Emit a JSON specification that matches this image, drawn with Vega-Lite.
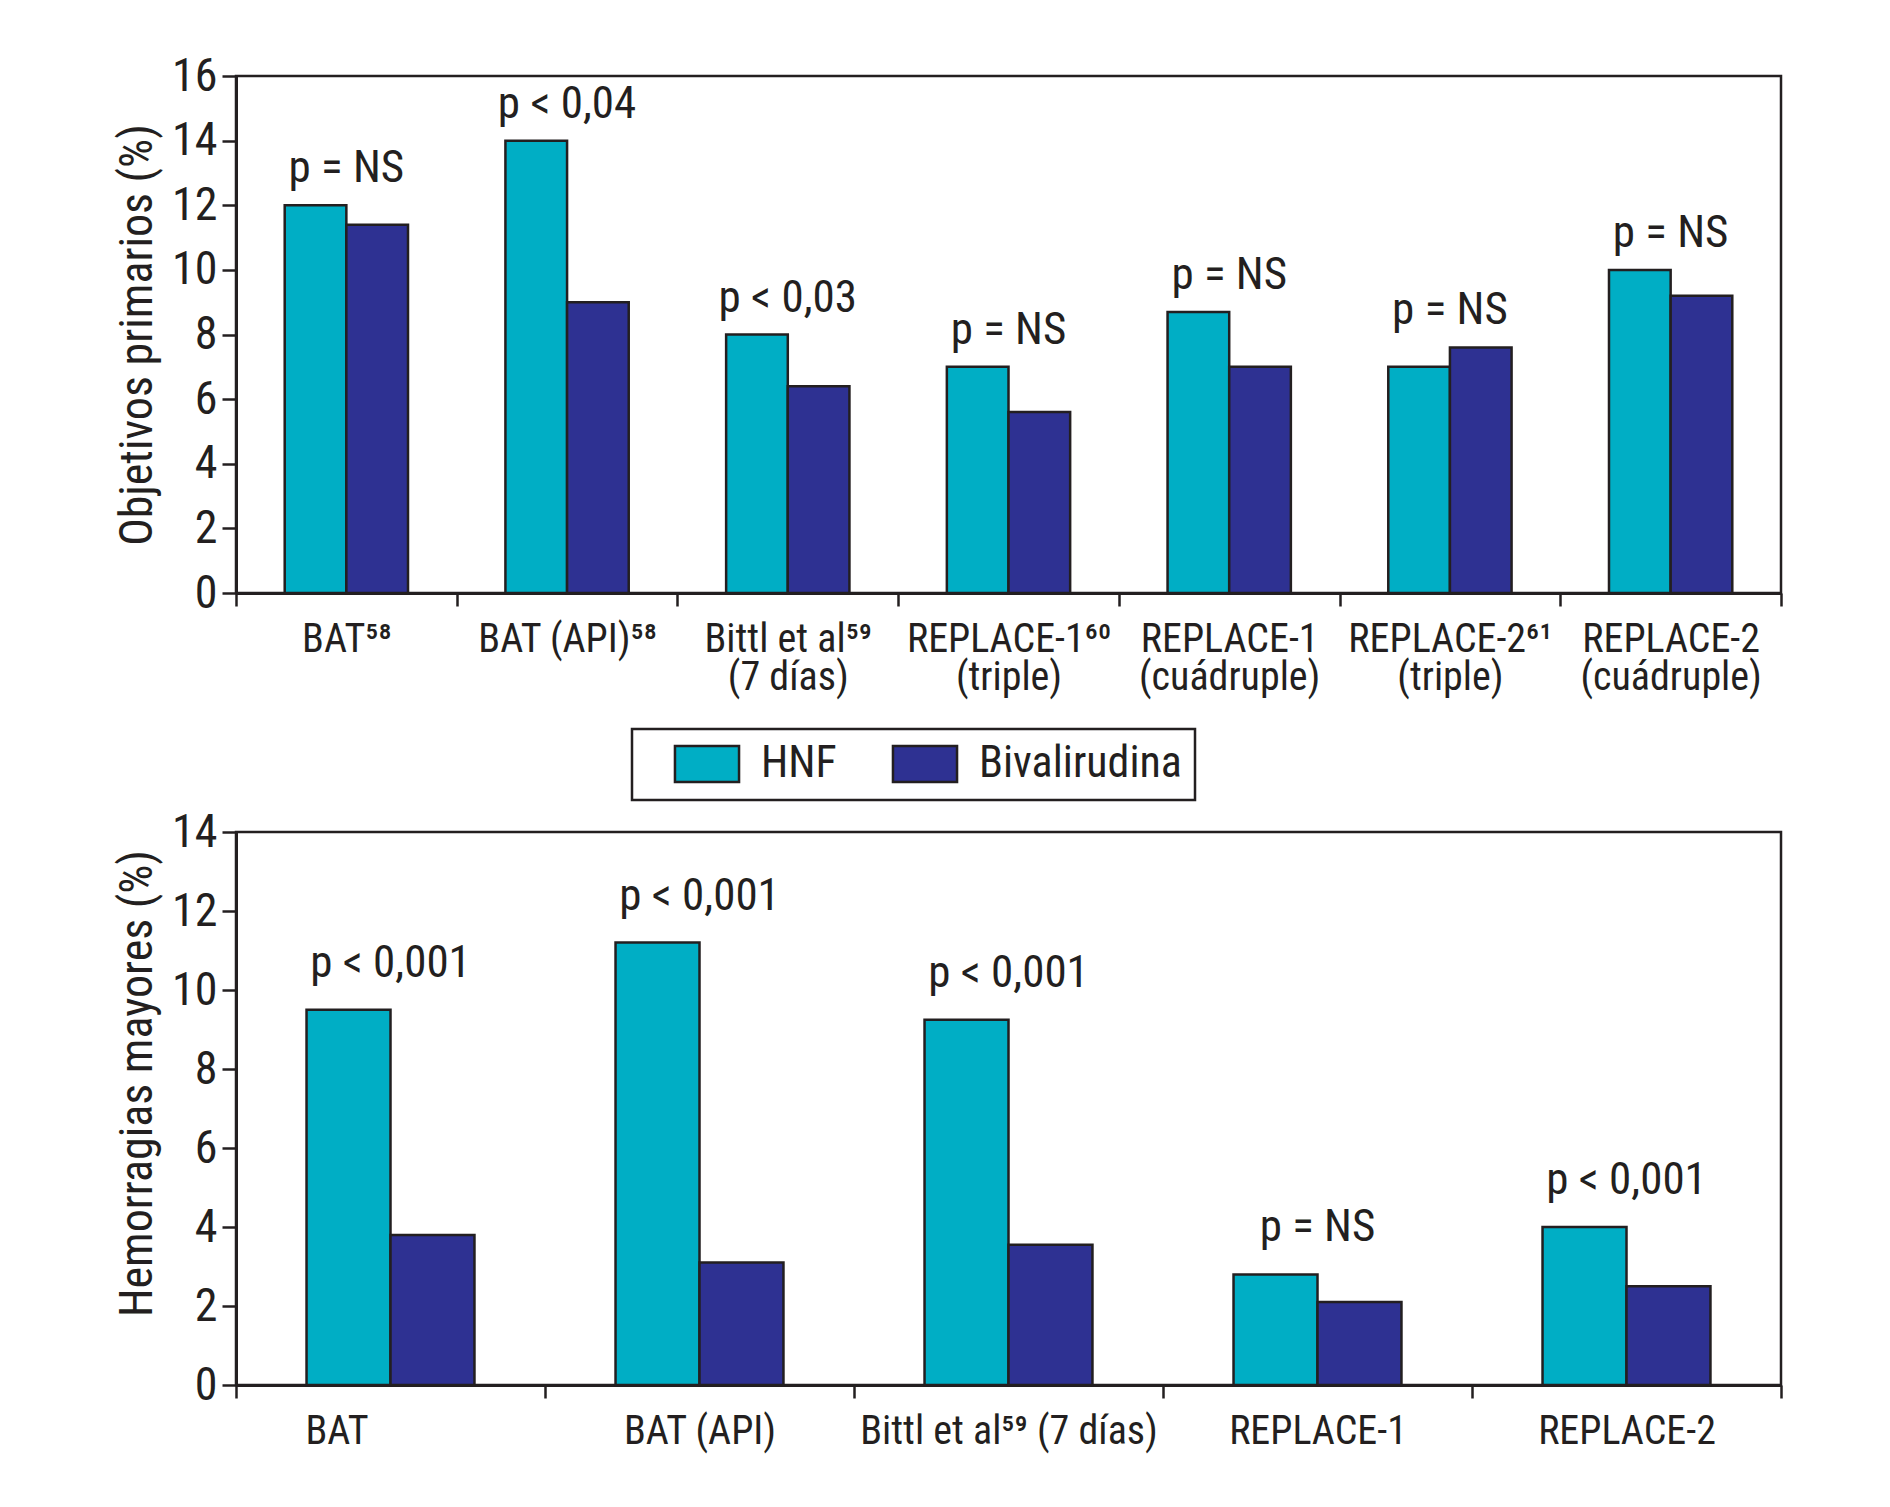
{
  "$schema": "https://vega.github.io/schema/vega-lite/v6.json",
  "background": "white",
  "padding": {"left": 113, "top": 51, "right": 100, "bottom": 40},
  "config": {
    "font": "Roboto Condensed, Liberation Sans Narrow, DejaVu Sans Condensed, sans-serif",
    "view": {"stroke": "#231f20", "strokeWidth": 2.5},
    "axis": {
      "domainColor": "#231f20",
      "domainWidth": 3,
      "tickColor": "#231f20",
      "tickWidth": 2.5,
      "labelColor": "#231f20",
      "titleColor": "#231f20",
      "titleFontWeight": "normal",
      "grid": false,
      "labelOverlap": false,
      "labelLimit": 0
    },
    "axisY": {"tickSize": 14, "labelFontSize": 46, "labelPadding": 5, "titleFontSize": 46, "titlePadding": 10, "labelFlush": false},
    "axisX": {"tickSize": 13, "labelFontSize": 40, "labelAngle": 0, "labelPadding": 13, "tickBand": "extent", "labelBaseline": "top"},
    "legend": {"strokeWidth": 2.5}
  },
  "datasets": {
    "primarios": [
      {"estudio": "BAT⁵⁸", "grupo": "HNF", "valor": 12.0, "p": "p = NS"},
      {"estudio": "BAT⁵⁸", "grupo": "Bivalirudina", "valor": 11.4},
      {"estudio": "BAT (API)⁵⁸", "grupo": "HNF", "valor": 14.0, "p": "p < 0,04"},
      {"estudio": "BAT (API)⁵⁸", "grupo": "Bivalirudina", "valor": 9.0},
      {"estudio": "Bittl et al⁵⁹|(7 días)", "grupo": "HNF", "valor": 8.0, "p": "p < 0,03"},
      {"estudio": "Bittl et al⁵⁹|(7 días)", "grupo": "Bivalirudina", "valor": 6.4},
      {"estudio": "REPLACE-1⁶⁰|(triple)", "grupo": "HNF", "valor": 7.0, "p": "p = NS"},
      {"estudio": "REPLACE-1⁶⁰|(triple)", "grupo": "Bivalirudina", "valor": 5.6},
      {"estudio": "REPLACE-1|(cuádruple)", "grupo": "HNF", "valor": 8.7, "p": "p = NS"},
      {"estudio": "REPLACE-1|(cuádruple)", "grupo": "Bivalirudina", "valor": 7.0},
      {"estudio": "REPLACE-2⁶¹|(triple)", "grupo": "HNF", "valor": 7.0, "p": "p = NS"},
      {"estudio": "REPLACE-2⁶¹|(triple)", "grupo": "Bivalirudina", "valor": 7.6},
      {"estudio": "REPLACE-2|(cuádruple)", "grupo": "HNF", "valor": 10.0, "p": "p = NS"},
      {"estudio": "REPLACE-2|(cuádruple)", "grupo": "Bivalirudina", "valor": 9.2}
    ],
    "hemorragias": [
      {"estudio": "BAT", "grupo": "HNF", "valor": 9.5, "p": "p < 0,001"},
      {"estudio": "BAT", "grupo": "Bivalirudina", "valor": 3.8},
      {"estudio": "BAT (API)", "grupo": "HNF", "valor": 11.2, "p": "p < 0,001"},
      {"estudio": "BAT (API)", "grupo": "Bivalirudina", "valor": 3.1},
      {"estudio": "Bittl et al⁵⁹ (7 días)", "grupo": "HNF", "valor": 9.25, "p": "p < 0,001"},
      {"estudio": "Bittl et al⁵⁹ (7 días)", "grupo": "Bivalirudina", "valor": 3.55},
      {"estudio": "REPLACE-1", "grupo": "HNF", "valor": 2.8, "p": "p = NS"},
      {"estudio": "REPLACE-1", "grupo": "Bivalirudina", "valor": 2.1},
      {"estudio": "REPLACE-2", "grupo": "HNF", "valor": 4.0, "p": "p < 0,001"},
      {"estudio": "REPLACE-2", "grupo": "Bivalirudina", "valor": 2.5}
    ]
  },
  "bounds": "flush",
  "spacing": 239,
  "resolve": {"scale": {"x": "independent", "xOffset": "independent", "y": "independent", "color": "shared"}},
  "vconcat": [
    {
      "width": 1545,
      "height": 517,
      "data": {"name": "primarios"},
      "encoding": {
        "x": {
          "field": "estudio",
          "type": "nominal",
          "sort": null,
          "title": null,
          "scale": {"paddingInner": 0, "paddingOuter": 0},
          "axis": {"labelExpr": "split(datum.label, '|')", "labelLineHeight": 38}
        }
      },
      "layer": [
        {
          "mark": {"type": "bar", "stroke": "#231f20", "strokeWidth": 2.5},
          "encoding": {
            "xOffset": {"field": "grupo", "sort": null, "scale": {"paddingInner": 0, "paddingOuter": 0.79}},
            "y": {
              "field": "valor",
              "type": "quantitative",
              "title": "Objetivos primarios (%)",
              "scale": {"domain": [0, 16], "nice": false},
              "axis": {"values": [0, 2, 4, 6, 8, 10, 12, 14, 16]}
            },
            "color": {
              "field": "grupo",
              "type": "nominal",
              "sort": null,
              "scale": {"domain": ["HNF", "Bivalirudina"], "range": ["#00aec5", "#2e3192"]},
              "legend": {
                "orient": "none",
                "legendX": 396,
                "legendY": 653,
                "direction": "horizontal",
                "title": null,
                "symbolType": "M-1.78,-1H1.78V1H-1.78Z",
                "symbolSize": 1296,
                "symbolOffset": 40,
                "symbolStrokeColor": "#231f20",
                "symbolStrokeWidth": 2.5,
                "symbolOpacity": 1,
                "labelFontSize": 44,
                "labelLimit": 0,
                "labelColor": "#231f20",
                "labelOffset": 32,
                "columnPadding": 26,
                "padding": 13,
                "strokeColor": "#231f20",
                "fillColor": "white"
              }
            }
          }
        },
        {
          "transform": [
            {"joinaggregate": [{"op": "max", "field": "valor", "as": "tope"}], "groupby": ["estudio"]},
            {"filter": "datum.p != null"}
          ],
          "mark": {"type": "text", "fontSize": 45, "dy": -23, "baseline": "alphabetic", "color": "#231f20"},
          "encoding": {
            "y": {"field": "tope", "type": "quantitative", "title": "Objetivos primarios (%)"},
            "text": {"field": "p"}
          }
        }
      ]
    },
    {
      "width": 1545,
      "height": 553,
      "data": {"name": "hemorragias"},
      "encoding": {
        "x": {
          "field": "estudio",
          "type": "nominal",
          "sort": null,
          "title": null,
          "scale": {"paddingInner": 0, "paddingOuter": 0},
          "axis": {"labelOffset": {"condition": {"test": "datum.label === 'BAT'", "value": -54}, "value": 0}}
        }
      },
      "layer": [
        {
          "mark": {"type": "bar", "stroke": "#231f20", "strokeWidth": 2.5},
          "encoding": {
            "xOffset": {"field": "grupo", "sort": null, "scale": {"paddingInner": 0, "paddingOuter": 0.84}},
            "y": {
              "field": "valor",
              "type": "quantitative",
              "title": "Hemorragias mayores (%)",
              "scale": {"domain": [0, 14], "nice": false},
              "axis": {"values": [0, 2, 4, 6, 8, 10, 12, 14], "titleY": 251}
            },
            "color": {
              "field": "grupo",
              "type": "nominal",
              "sort": null,
              "scale": {"domain": ["HNF", "Bivalirudina"], "range": ["#00aec5", "#2e3192"]}
            }
          }
        },
        {
          "transform": [
            {"joinaggregate": [{"op": "max", "field": "valor", "as": "tope"}], "groupby": ["estudio"]},
            {"filter": "datum.p != null"}
          ],
          "mark": {"type": "text", "fontSize": 45, "dy": -33, "baseline": "alphabetic", "color": "#231f20"},
          "encoding": {
            "y": {"field": "tope", "type": "quantitative", "title": "Hemorragias mayores (%)"},
            "text": {"field": "p"}
          }
        }
      ]
    }
  ]
}
